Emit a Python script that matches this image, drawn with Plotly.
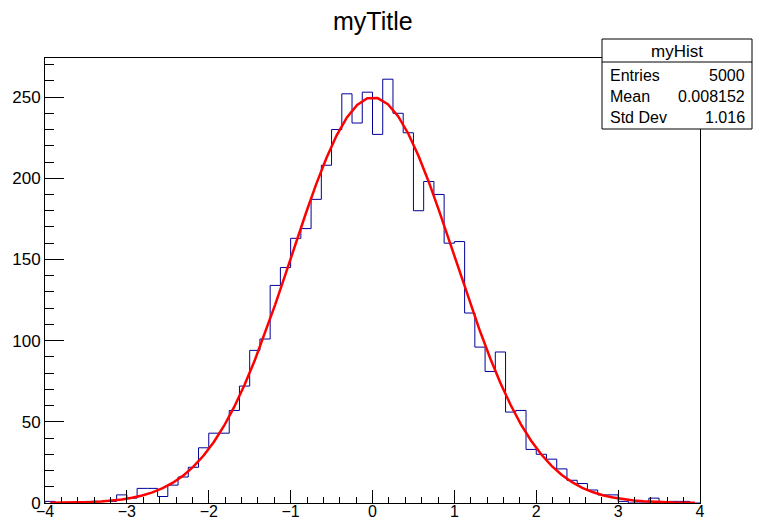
import numpy as np
import plotly.graph_objects as go

# Histogram "myHist": 64 bins on [-4, 4]
x_min, x_max, n_bins = -4.0, 4.0, 64
counts = [
    1, 0, 0, 0, 1, 1, 1, 5, 3, 9, 9, 4, 11, 16, 22, 34,
    43, 43, 57, 72, 94, 101, 134, 145, 163, 169, 187, 208, 230, 252, 234, 253,
    227, 261, 240, 228, 180, 198, 190, 160, 161, 117, 96, 81, 93, 56, 57, 33,
    30, 27, 21, 14, 12, 8, 5, 5, 1, 0, 0, 3, 0, 1, 1, 0,
]

# Gaussian fit parameters (constant, mean, sigma)
fit_const, fit_mean, fit_sigma = 249.8, 0.005, 0.998

# Statistics box contents
stats_name = "myHist"
stats_labels = ["Entries", "Mean", "Std Dev"]
stats_values = ["5000", "0.008152", "1.016"]
title_text = "myTitle"

x_ticks = [-4, -3, -2, -1, 0, 1, 2, 3, 4]
y_ticks = [0, 50, 100, 150, 200, 250]

edges = np.linspace(x_min, x_max, n_bins + 1)
centers = 0.5 * (edges[:-1] + edges[1:])

# step outline of the histogram
step_x = [x_min] + list(edges[:-1]) + [x_max]
step_y = [0] + list(counts) + [counts[-1]]

fit_y = fit_const * np.exp(-0.5 * ((centers - fit_mean) / fit_sigma) ** 2)

y_top = 1.05 * max(counts)

W, H = 761, 521
L, R, T, B = 45, 61, 58, 18
FONT = "Liberation Sans, Arial, Helvetica, sans-serif"

fig = go.Figure()
fig.add_trace(go.Scatter(
    x=step_x, y=step_y, mode="lines", line_shape="hv",
    line=dict(color="#000099", width=1), hoverinfo="skip", showlegend=False,
))
fig.add_trace(go.Scatter(
    x=centers, y=fit_y, mode="lines",
    line=dict(color="#ff0000", width=2.5), hoverinfo="skip", showlegend=False,
))

axis_common = dict(
    showgrid=False, zeroline=False, showline=True, linecolor="black",
    linewidth=1, mirror=True, ticks="inside", tickcolor="black",
)
fig.update_xaxes(
    range=[x_min, x_max], tickvals=x_ticks, ticklen=13, tickwidth=1,
    ticklabelstandoff=-6,
    tickfont=dict(family=FONT, size=16, color="black"),
    minor=dict(ticks="inside", dtick=0.2, tick0=0, ticklen=6,
               tickcolor="black", tickwidth=1),
    **axis_common,
)
fig.update_yaxes(
    range=[0, y_top], tickvals=y_ticks, ticklen=19, tickwidth=1,
    tickfont=dict(family=FONT, size=17, color="black"),
    minor=dict(ticks="inside", dtick=10, tick0=0, ticklen=9,
               tickcolor="black", tickwidth=1),
    **axis_common,
)


def px_x(p):
    return (p - L) / (W - L - R)


def px_y(p):
    return (H - B - p) / (H - T - B)


# statistics box
bx0, bx1, by0, by1, by_head = 602, 752, 39, 129, 62
shapes = [
    dict(type="rect", xref="paper", yref="paper",
         x0=px_x(bx0), x1=px_x(bx1), y0=px_y(by1), y1=px_y(by0),
         line=dict(color="black", width=1), fillcolor="white", layer="above"),
    dict(type="line", xref="paper", yref="paper",
         x0=px_x(bx0), x1=px_x(bx1), y0=px_y(by_head), y1=px_y(by_head),
         line=dict(color="black", width=1), layer="above"),
]

annotations = [
    dict(text=title_text, xref="paper", yref="paper", x=px_x(373), y=px_y(21),
         xanchor="center", yanchor="middle", showarrow=False,
         font=dict(family=FONT, size=25, color="black")),
    dict(text=stats_name, xref="paper", yref="paper", x=px_x(677), y=px_y(51),
         xanchor="center", yanchor="middle", showarrow=False,
         font=dict(family=FONT, size=17, color="black")),
]
row_y = [75, 96.5, 117.5]
for lab, val, ry in zip(stats_labels, stats_values, row_y):
    annotations.append(dict(text=lab, xref="paper", yref="paper",
                            x=px_x(608), y=px_y(ry), xanchor="left",
                            yanchor="middle", showarrow=False,
                            font=dict(family=FONT, size=16, color="black")))
    annotations.append(dict(text=val, xref="paper", yref="paper",
                            x=px_x(747), y=px_y(ry), xanchor="right",
                            yanchor="middle", showarrow=False,
                            font=dict(family=FONT, size=16, color="black")))

fig.update_layout(
    width=W, height=H,
    margin=dict(l=L, r=R, t=T, b=B, autoexpand=False),
    paper_bgcolor="white", plot_bgcolor="white",
    shapes=shapes, annotations=annotations,
    font=dict(family=FONT, color="black"),
)
fig.update_xaxes(automargin=False)
fig.update_yaxes(automargin=False)

fig.write_html("out.html")
